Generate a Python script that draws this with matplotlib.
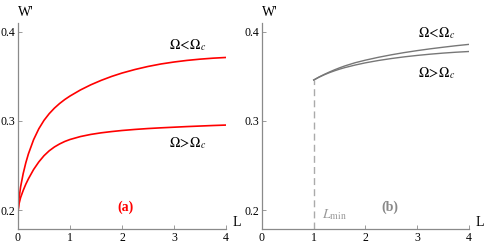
import matplotlib

matplotlib.use("Agg")
import matplotlib.pyplot as plt

plt.rcParams["font.family"] = "Liberation Serif"
plt.rcParams["mathtext.fontset"] = "stix"
plt.rcParams["font.size"] = 8

# panel (a): W' vs L
L_a = [0, 0.02, 0.05, 0.1, 0.15, 0.2, 0.3, 0.4, 0.5, 0.6, 0.7, 0.8, 0.9, 1.0,
       1.2, 1.4, 1.6, 1.8, 2.0, 2.25, 2.5, 2.75, 3.0, 3.25, 3.5, 3.75, 4.0]
w_below = [0.198, 0.213, 0.226, 0.241, 0.253, 0.263, 0.279, 0.2912, 0.3007, 0.3082,
           0.3144, 0.3196, 0.3241, 0.328, 0.3348, 0.3406, 0.3456, 0.35, 0.3538,
           0.3578, 0.3612, 0.364, 0.3662, 0.368, 0.3694, 0.3705, 0.3713]
w_above = [0.198, 0.207, 0.214, 0.222, 0.229, 0.235, 0.2455, 0.254, 0.261, 0.2665,
           0.2708, 0.2742, 0.277, 0.2792, 0.2825, 0.2849, 0.2867, 0.2881, 0.2893,
           0.2905, 0.2915, 0.2923, 0.293, 0.2937, 0.2943, 0.2949, 0.2954]

# panel (b): curves start at L_min = 1
L_min = 1.0
L_b = [1.0, 1.1, 1.2, 1.3, 1.4, 1.5, 1.6, 1.8, 2.0, 2.25, 2.5, 2.75, 3.0, 3.25,
       3.5, 3.75, 4.0]
wb_below = [0.346, 0.3493, 0.3522, 0.3549, 0.3574, 0.3597, 0.3618, 0.3654, 0.3683,
            0.3715, 0.3743, 0.3768, 0.379, 0.381, 0.3828, 0.3845, 0.386]
wb_above = [0.346, 0.3491, 0.3518, 0.3542, 0.3563, 0.3582, 0.3599, 0.3628, 0.3653,
            0.3679, 0.3701, 0.372, 0.3736, 0.375, 0.3762, 0.3772, 0.378]

xticks = [0, 1, 2, 3, 4]
yticks = [0.2, 0.3, 0.4]
YLIM = (0.1787, 0.410)

fig = plt.figure(figsize=(4.85, 2.49), dpi=100)
ax1 = fig.add_axes([18 / 485, 20 / 249, 208 / 485, 206 / 249])
ax2 = fig.add_axes([262 / 485, 20 / 249, 207 / 485, 206 / 249])

for ax in (ax1, ax2):
    ax.set_xlim(0, 4)
    ax.set_ylim(*YLIM)
    ax.set_xticks(xticks)
    ax.set_yticks(yticks)
    ax.set_yticklabels(["0.2", "0.3", "0.4"])
    for s in ("top", "right"):
        ax.spines[s].set_visible(False)
    for s in ("left", "bottom"):
        ax.spines[s].set_color("#8a8a8a")
        ax.spines[s].set_linewidth(0.9)
    ax.tick_params(direction="in", length=3, width=0.6, color="#8a8a8a",
                   labelsize=8.5, pad=2)
    ax.annotate("L", xy=(1, 0), xycoords="axes fraction", xytext=(5, 0),
                textcoords="offset points", fontsize=10, ha="left", va="bottom")
    ax.annotate("W'", xy=(0, 1), xycoords="axes fraction", xytext=(0, 3),
                textcoords="offset points", fontsize=10, ha="left", va="bottom")

ax1.plot(L_a, w_below, color="red", lw=1.2)
ax1.plot(L_a, w_above, color="red", lw=1.2)
ax1.text(3.27, 0.3854, r"$\Omega\!<\!\Omega_c$", fontsize=10, ha="center", va="center")
ax1.text(3.27, 0.2753, r"$\Omega\!>\!\Omega_c$", fontsize=10, ha="center", va="center")
ax1.text(2.06, 0.2034, "(a)", color="red", fontweight="bold", fontsize=10,
         ha="center", va="center")

ax2.plot([L_min, L_min], [YLIM[0], wb_below[0]], color="#aaaaaa", lw=1.0,
         ls=(0, (5, 3)))
ax2.plot(L_b, wb_below, color="#777777", lw=1.0)
ax2.plot(L_b, wb_above, color="#777777", lw=1.0)
ax2.text(3.38, 0.3989, r"$\Omega\!<\!\Omega_c$", fontsize=10, ha="center", va="center")
ax2.text(3.38, 0.354, r"$\Omega\!>\!\Omega_c$", fontsize=10, ha="center", va="center")
ax2.text(2.47, 0.2034, "(b)", color="#888888", fontweight="bold", fontsize=10,
         ha="center", va="center")
ax2.text(1.39, 0.1944, r"$L_{\rm min}$", color="#999999", fontsize=10,
         ha="center", va="center")

fig.savefig("out.png", dpi=100)
